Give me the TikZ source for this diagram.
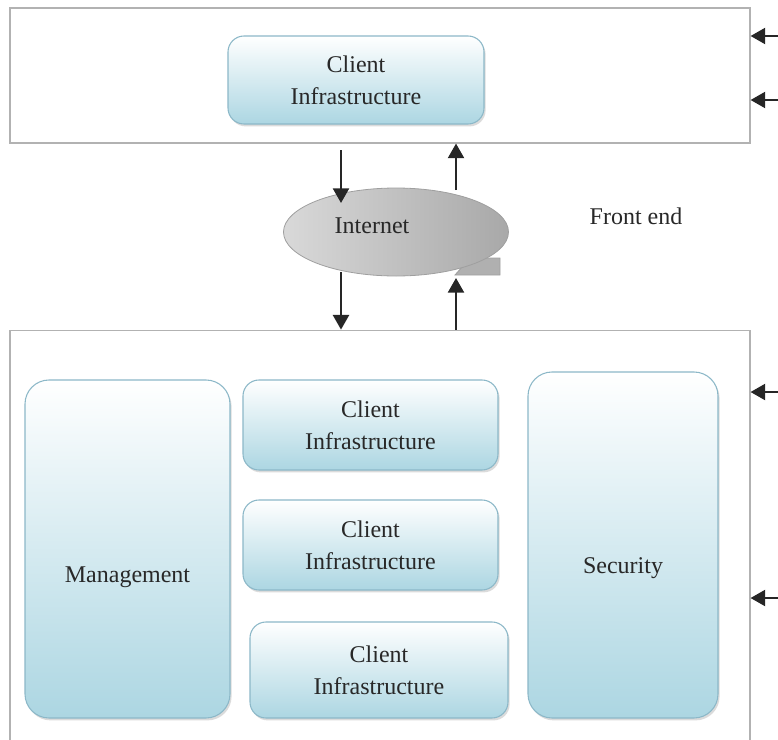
\documentclass[tikz,border=0pt]{standalone}
\usepackage{fontspec}
\setmainfont{Liberation Serif}
\usetikzlibrary{positioning,calc,arrows.meta,shapes.geometric,shadows}
\definecolor{boxblue}{RGB}{172,214,226}
\definecolor{boxedge}{RGB}{140,184,200}
\definecolor{txtgray}{RGB}{40,40,40}

\begin{document}
\begin{tikzpicture}[x=0.75pt,y=-0.75pt,font=\fontsize{18}{23}\selectfont,
    >={Triangle[length=11pt,width=12pt]},
    outer/.style={draw=gray!60,line width=0.8pt,fill=white},
    cb/.style={draw=boxedge,line width=0.8pt,rounded corners=12pt,top color=white,bottom color=boxblue,
      align=center,text=txtgray,drop shadow={shadow xshift=1.2pt,shadow yshift=-1.8pt,fill=gray!55,opacity=0.5}},
    arr/.style={->,line width=1.8pt,draw=black!85}]
  \useasboundingbox (0,0) rectangle (778,739);
  % front side
  \node[outer,minimum width=555pt,minimum height=101.25pt] (topbox) at (380,75.5) {};
  \node[cb,minimum width=192pt,minimum height=66pt] (ctop) at (356,80) {Client\\[1pt]Infrastructure};
  % back side
  \node[outer,minimum width=555pt,minimum height=311pt] (botbox) at (380,537.5) {};
  \node[cb,rounded corners=18pt,minimum width=153.75pt,minimum height=253.5pt,
    label={[text=txtgray,yshift=-21.5pt]center:Management}] (mgmt) at (127.5,549) {};
  \node[cb,minimum width=191.25pt,minimum height=67.5pt] (cl1) at (370.5,425) {Client\\[1pt]Infrastructure};
  \node[cb,minimum width=191.25pt,minimum height=67.5pt] (cl2) at (370.5,545) {Client\\[1pt]Infrastructure};
  \node[cb,minimum width=193.5pt,minimum height=72pt] (cl3) at (379,670) {Client\\[1pt]Infrastructure};
  \node[cb,rounded corners=18pt,minimum width=142.5pt,minimum height=259.5pt,
    label={[text=txtgray,yshift=-17pt]center:Security}] (sec) at (623,545) {};
  % cloud
  \draw[draw=gray!75,line width=0.6pt,fill=gray!62]
    (470,258) -- (500,258) -- (500,275) -- (455,275) -- cycle;
  \node[ellipse,draw=gray!75,line width=0.6pt,left color=gray!30,right color=gray!68,
    minimum width=168.75pt,minimum height=66pt,inner sep=0pt] (net) at (396,232) {};
  \node[text=txtgray] (nettxt) at (372,226) {Internet};
  \node[text=txtgray] (fe) at (636,216) {Front end};
  % arrows
  \coordinate (a1) at (341,150);
  \coordinate (a2) at (456,190);
  \coordinate (a3) at (341,272);
  \coordinate (a4) at (456,278);
  \draw[arr] (a1) -- ++(0,53);
  \draw[arr] (a2) -- (a2 |- topbox.south);
  \draw[arr] (a3) -- (a3 |- botbox.north);
  \draw[arr] (a4 |- botbox.north) -- (a4);
  \foreach \y/\b in {36/topbox,100/topbox,392/botbox,598/botbox}
    {\coordinate (r\y) at (780,\y);
     \draw[arr] (r\y) -- (r\y -| \b.east);}
\end{tikzpicture}
\end{document}
